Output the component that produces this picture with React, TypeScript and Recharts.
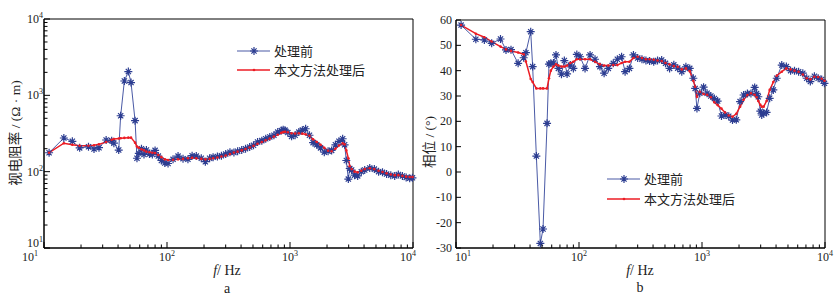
import { LineChart, Line, XAxis, YAxis, ReferenceArea } from "recharts";

// frequency (Hz), shared by both panels
const freq = [
  11, 14.5, 17, 19.5, 23, 25.5, 28, 32, 35.5, 37, 40.5, 42, 45, 48.5, 51, 55, 57, 59, 62, 65, 68, 72, 76, 80, 85, 90, 96,
  102, 112, 123, 135, 148, 160, 173, 190, 205, 222, 237, 257, 277, 300, 325, 350, 375, 405, 435, 470, 505, 545, 590, 635,
  685, 740, 795, 850, 880, 910, 960,
  1030, 1100, 1180, 1260, 1340, 1440, 1540, 1650, 1770, 1900, 2040, 2180, 2340, 2500, 2680, 2780, 2870, 2980, 3060, 3170,
  3350, 3550, 3800, 4050, 4450, 4850, 5250, 5650, 6100, 6600, 7100, 7600, 8200, 8800, 9400, 9900,
];

// apparent resistivity before processing
const rhoRaw = [
  177, 276, 250, 205, 212, 198, 206, 260, 255, 236, 192, 540, 1540, 2050, 1470, 466, 150, 174, 200, 168, 192, 170, 168, 190, 160, 140, 130,
  128, 145, 160, 148, 145, 162, 160, 150, 135, 150, 155, 158, 162, 170, 180, 178, 185, 192, 200, 210, 222, 245, 255, 270,
  285, 300, 330, 345, 355, 350, 325,
  290, 300, 330, 350, 365, 300, 240, 225, 205, 180, 185, 190, 225, 250, 270, 225, 140, 80, 110, 105,
  90, 88, 100, 105, 112, 108, 100, 98, 93, 90, 88, 92, 88, 84, 82, 83,
];

// apparent resistivity after processing
const rhoFix = [
  177, 236, 225, 219, 219, 222, 228, 245, 262, 268, 272, 274, 277, 279, 279, 240, 213, 205, 196, 190, 183, 180, 177, 175, 165, 155, 145,
  142, 143, 145, 147, 150, 152, 150, 147, 145, 147, 150, 153, 158, 163, 170, 178, 183, 190, 198, 207, 218, 232, 245, 258,
  272, 288, 305, 322, 330, 334, 328,
  318, 316, 318, 315, 308, 295, 265, 245, 225, 205, 188, 185, 200, 220, 235, 228, 190, 150, 118, 108,
  100, 98, 103, 108, 111, 108, 103, 99, 95, 92, 90, 90, 88, 86, 85, 85,
];

// phase before processing
const phaseRaw = [
  58, 52.4, 52.1, 50.8, 52.5, 48.2, 48.3, 42.9, 45.1, 47.1, 55.4, 41.6, 6.3, -28.2, -22.5, 19.2, 42.6, 42.9, 43, 46.2, 40.9, 38.6, 44, 38.7, 42.2, 40.9, 46.4,
  45.5, 40.9, 46.2, 44.5, 41.6, 39, 40.9, 42.9, 44.5, 45.5, 39.6, 40.9, 46.2, 45, 44.5, 44, 43.8, 43.5, 44, 44.2, 42.9, 40.9, 42.3, 41,
  39.6, 41.5, 40.9, 37, 33, 25.1, 31.1,
  33.5, 31.1, 30, 29, 28, 22.1, 22.5, 22, 20.5, 20.6, 27.8, 30.4, 31, 31, 33.4, 31, 29.7, 24, 22.5, 23.2,
  23.5, 29.1, 32.4, 37, 42.2, 41.6, 40, 40, 39.6, 39, 37, 35.7, 37.8, 37, 36.5, 35,
];

// phase after processing
const phaseFix = [
  58, 54.6, 53.2, 51.5, 49.5, 48.4, 47.8, 47.2, 46.5, 43.6, 36.7, 35.5, 33, 33, 33, 33, 37, 40, 41.6, 42.5, 42, 41.6, 41.6, 42, 43, 43.5, 44.5,
  44.5, 44.5, 44.5, 43.5, 42.5, 42, 42, 42.2, 42.2, 43, 43.5, 43.5, 45, 45.5, 45, 44.5, 44.5, 44.3, 44, 43.8, 43, 42.5, 41.8, 41.5,
  40.5, 40.9, 39.8, 36, 33.7, 29.7, 31.7,
  30.8, 30.5, 29.5, 27.5, 26.4, 25, 23.5, 22.3, 21.8, 23, 25.8, 28.5, 30.4, 31.1, 30.5, 29.5, 28, 26.5, 25.8, 25.8,
  28, 32.4, 35.5, 38, 39.6, 40.9, 40.5, 40, 39.6, 38.5, 37, 36.5, 37.6, 37.5, 36.8, 36,
];

const decades = [10, 100, 1000, 10000];
const phaseTicks = [-30, -20, -10, 0, 10, 20, 30, 40, 50, 60];

const logTicks = (majors: number[]) => {
  const out: number[] = [];
  majors.forEach((m, i) => {
    if (i === majors.length - 1) {
      out.push(m);
      return;
    }
    for (let k = 1; k < 10; k++) out.push(m * k);
  });
  return out;
};

const xTicks = logTicks(decades);

const dataA = freq.map((f, i) => ({ f, raw: rhoRaw[i], fix: rhoFix[i] }));
const dataB = freq.map((f, i) => ({ f, raw: phaseRaw[i], fix: phaseFix[i] }));

const BLUE = "#2c3d91";
const BLUE_LINE = "#4a5aa6";
const RED = "#ec1c24";
const serif = { fontFamily: "'Liberation Serif', 'Times New Roman', Times, serif" };
const cjk = { fontFamily: "'Liberation Serif', 'Noto Sans CJK SC', serif" };

const starPath = (cx: number, cy: number) =>
  `M${cx - 4},${cy}H${cx + 4}M${cx},${cy - 4}V${cy + 4}` +
  `M${cx - 2.6},${cy - 2.6}L${cx + 2.6},${cy + 2.6}M${cx - 2.6},${cy + 2.6}L${cx + 2.6},${cy - 2.6}`;

const Star = (props: any) => {
  const { cx, cy, index } = props;
  if (cx == null || cy == null) return <g key={index} />;
  return <path key={index} d={starPath(cx, cy)} stroke={BLUE} strokeWidth={1.2} fill="none" />;
};

const RedDot = (props: any) => {
  const { cx, cy, index } = props;
  if (cx == null || cy == null) return <g key={index} />;
  return <circle key={index} cx={cx} cy={cy} r={1.3} fill={RED} />;
};

const Pow10 = ({ x, y, v, anchor }: { x: number; y: number; v: number; anchor: string }) => (
  <text x={x} y={y} textAnchor={anchor} style={serif} fontSize={12} fill="#222">
    10
    <tspan dy={-5} fontSize={8}>
      {Math.round(Math.log10(v))}
    </tspan>
  </text>
);

// first label sits left of the axis in panel a, right of it in panel b
const makeLogXTick = (firstSide: "left" | "right") => (props: any) => {
  const { x, y, payload } = props;
  const v = payload.value;
  const major = decades.includes(v);
  let lx = x;
  let anchor = "middle";
  if (v === 10) {
    lx = firstSide === "left" ? x - 6 : x - 1;
    anchor = firstSide === "left" ? "end" : "start";
  } else if (v === 10000 && firstSide === "left") {
    lx = x - 5;
  }
  return (
    <g>
      <line x1={x} x2={x} y1={y} y2={y - (major ? 6 : 3.5)} stroke="#000" />
      {major && <Pow10 x={lx} y={y + 13} v={v} anchor={anchor} />}
    </g>
  );
};

const TickA = makeLogXTick("left");
const TickB = makeLogXTick("right");

const LogYTick = (props: any) => {
  const { x, y, payload } = props;
  const v = payload.value;
  const major = decades.includes(v);
  // the bottom label is nudged up so it clears the x-axis label below it
  const ly = v === 10 ? y - 1 : y + 4;
  return (
    <g>
      <line x1={x} x2={x + (major ? 6 : 3.5)} y1={y} y2={y} stroke="#000" />
      {major && <Pow10 x={x - 1} y={ly} v={v} anchor="end" />}
    </g>
  );
};

const PhaseTick = (props: any) => {
  const { x, y, payload } = props;
  return (
    <g>
      <line x1={x} x2={x + 5} y1={y} y2={y} stroke="#000" />
      <text x={x - 4} y={y + 4} textAnchor="end" style={serif} fontSize={12} fill="#222">
        {payload.value}
      </text>
    </g>
  );
};

const LegendItem = ({ x, y, raw, label }: { x: number; y: number; raw: boolean; label: string }) => (
  <g>
    <line x1={x} x2={x + 33} y1={y} y2={y} stroke={raw ? BLUE_LINE : RED} strokeWidth={raw ? 1.2 : 1.5} />
    {raw ? (
      <path d={starPath(x + 17, y)} stroke={BLUE} strokeWidth={1.2} fill="none" />
    ) : (
      <circle cx={x + 17} cy={y} r={1.3} fill={RED} />
    )}
    <text x={x + 37} y={y + 4.5} style={{ fontFamily: "'Noto Sans CJK SC'" }} fontSize={13} fill="#222">
      {label}
    </text>
  </g>
);

const App = () => {
  return (
    <div style={{ position: "absolute", left: 0, top: 0, width: 840, height: 303, background: "#fff" }}>
      <div style={{ position: "absolute", left: 0, top: 0 }}>
        <LineChart width={420} height={303} data={dataA} margin={{ top: 19, right: 7, bottom: 25, left: 0 }}>
          <XAxis
            dataKey="f"
            type="number"
            scale="log"
            domain={[10, 10000]}
            ticks={xTicks}
            interval={0}
            tick={<TickA />}
            tickSize={0}
            tickMargin={0}
            tickLine={false}
            height={30}
            axisLine={{ stroke: "#000" }}
          />
          <YAxis
            type="number"
            scale="log"
            domain={[10, 10000]}
            ticks={xTicks}
            interval={0}
            tick={<LogYTick />}
            tickSize={0}
            tickMargin={0}
            tickLine={false}
            width={44}
            axisLine={{ stroke: "#000" }}
          />
          <ReferenceArea x1={10} x2={10000} y1={10} y2={10000} fill="none" stroke="#000" strokeWidth={1} />
          <Line
            dataKey="raw"
            stroke={BLUE_LINE}
            strokeWidth={1}
            dot={Star}
            activeDot={false}
            isAnimationActive={false}
          />
          <Line
            dataKey="fix"
            stroke={RED}
            strokeWidth={1.5}
            dot={RedDot}
            activeDot={false}
            isAnimationActive={false}
          />
        </LineChart>
      </div>
      <div style={{ position: "absolute", left: 420, top: 0 }}>
        <LineChart width={420} height={303} data={dataB} margin={{ top: 20, right: 15, bottom: 25, left: 0 }}>
          <XAxis
            dataKey="f"
            type="number"
            scale="log"
            domain={[10, 10000]}
            ticks={xTicks}
            interval={0}
            tick={<TickB />}
            tickSize={0}
            tickMargin={0}
            tickLine={false}
            height={30}
            axisLine={{ stroke: "#000" }}
          />
          <YAxis
            type="number"
            domain={[-30, 60]}
            ticks={phaseTicks}
            interval={0}
            tick={<PhaseTick />}
            tickSize={0}
            tickMargin={0}
            tickLine={false}
            width={36}
            axisLine={{ stroke: "#000" }}
          />
          <ReferenceArea x1={10} x2={10000} y1={-30} y2={60} fill="none" stroke="#000" strokeWidth={1} />
          <Line
            dataKey="raw"
            stroke={BLUE_LINE}
            strokeWidth={1}
            dot={Star}
            activeDot={false}
            isAnimationActive={false}
          />
          <Line
            dataKey="fix"
            stroke={RED}
            strokeWidth={1.5}
            dot={RedDot}
            activeDot={false}
            isAnimationActive={false}
          />
        </LineChart>
      </div>
      <svg width={840} height={303} style={{ position: "absolute", left: 0, top: 0, pointerEvents: "none" }}>
        <LegendItem x={237} y={51} raw label="处理前" />
        <LegendItem x={237} y={70} raw={false} label="本文方法处理后" />
        <LegendItem x={607} y={179} raw label="处理前" />
        <LegendItem x={607} y={199} raw={false} label="本文方法处理后" />

        <text
          transform="translate(15,133) rotate(-90)"
          textAnchor="middle"
          dominantBaseline="central"
          style={cjk}
          fontSize={13.5}
          fill="#222"
        >
          视电阻率 / (Ω · m)
        </text>
        <text
          transform="translate(429,142) rotate(-90)"
          textAnchor="middle"
          dominantBaseline="central"
          style={cjk}
          fontSize={13.5}
          fill="#222"
        >
          相位 / (°)
        </text>

        <text x={227} y={275} textAnchor="middle" style={serif} fontSize={14} fill="#222">
          <tspan fontStyle="italic">f</tspan>/ Hz
        </text>
        <text x={227} y={293} textAnchor="middle" style={serif} fontSize={14} fill="#222">
          a
        </text>
        <text x={640} y={275} textAnchor="middle" style={serif} fontSize={14} fill="#222">
          <tspan fontStyle="italic">f</tspan>/ Hz
        </text>
        <text x={640} y={292} textAnchor="middle" style={serif} fontSize={14} fill="#222">
          b
        </text>
      </svg>
    </div>
  );
};

export default App;
